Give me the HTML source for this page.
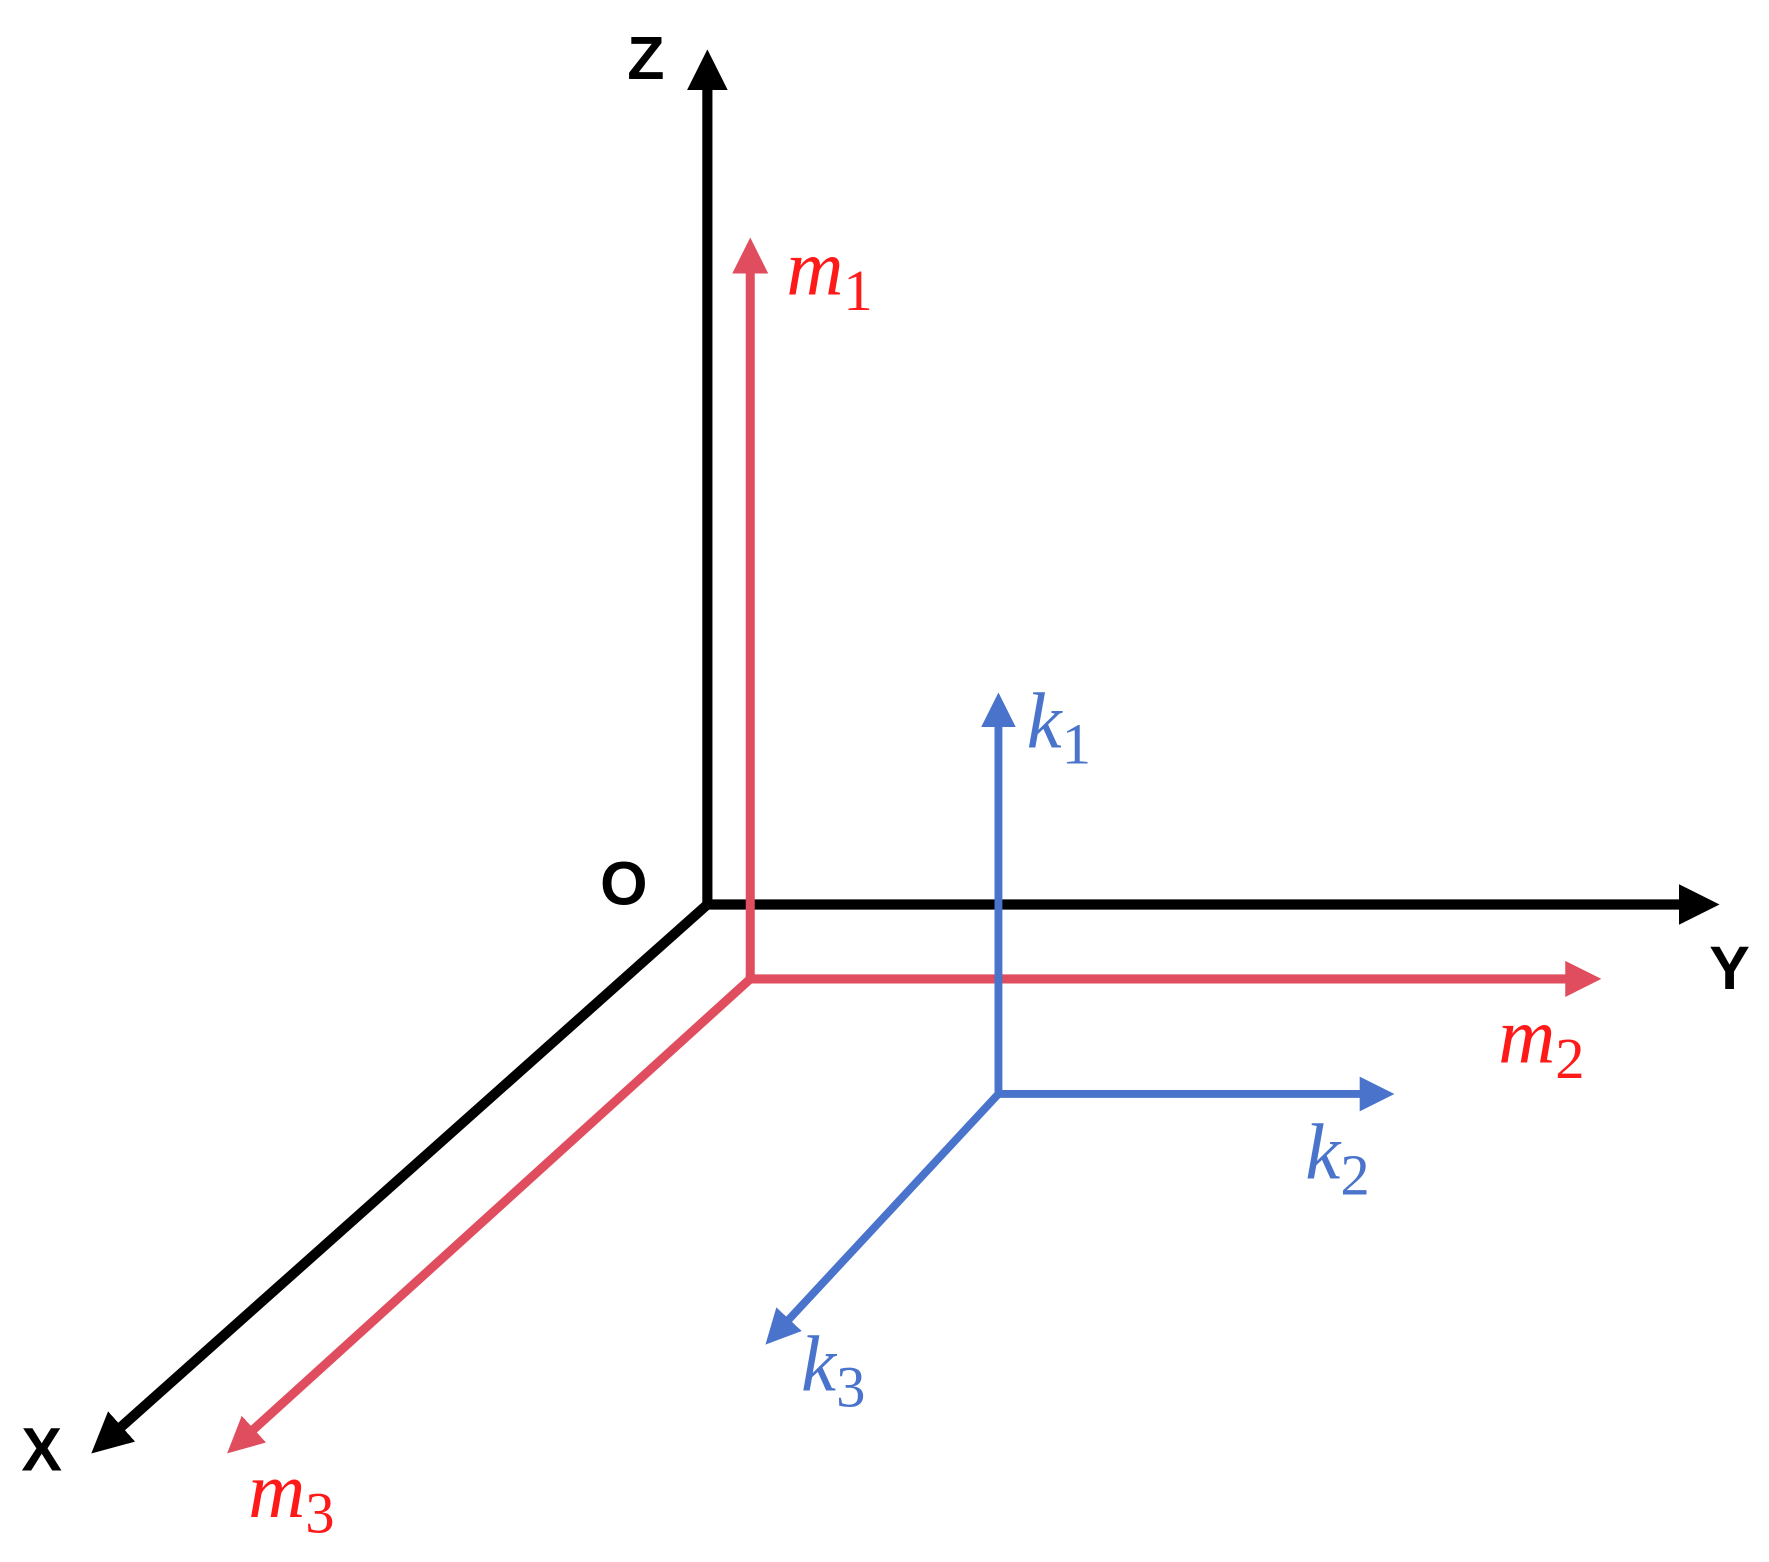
<!DOCTYPE html>
<html><head><style>html,body{margin:0;padding:0;background:#fff;}svg{display:block}</style></head>
<body>
<svg width="1769" height="1562" viewBox="0 0 1568 1385" preserveAspectRatio="none" xmlns="http://www.w3.org/2000/svg">
<defs>
<marker id="ab" markerWidth="4" markerHeight="4" refX="2.2" refY="2" orient="auto" markerUnits="strokeWidth"><path d="M0,0 L4,2 L0,4 Z" fill="#000"/></marker>
<marker id="ar" markerWidth="4" markerHeight="4" refX="2.2" refY="2" orient="auto" markerUnits="strokeWidth"><path d="M0,0 L4,2 L0,4 Z" fill="#e04d5e"/></marker>
<marker id="ak" markerWidth="4.4" markerHeight="4.4" refX="2.4" refY="2.2" orient="auto" markerUnits="strokeWidth"><path d="M0,0 L4.4,2.2 L0,4.4 Z" fill="#4a74cc"/></marker>
</defs>
<g fill="none" stroke-linecap="butt" stroke-linejoin="miter">
<path d="M627,806 L627,60" stroke="#000" stroke-width="9" marker-end="url(#ab)"/>
<path d="M623,802 L1508,802" stroke="#000" stroke-width="9" marker-end="url(#ab)"/>
<path d="M627,802 L93,1278" stroke="#000" stroke-width="9" marker-end="url(#ab)"/>
<path d="M665,871 L665,225" stroke="#e04d5e" stroke-width="8" marker-end="url(#ar)"/>
<path d="M661,868 L1405,868" stroke="#e04d5e" stroke-width="8" marker-end="url(#ar)"/>
<path d="M665,868 L212,1279" stroke="#e04d5e" stroke-width="8" marker-end="url(#ar)"/>
<path d="M885,973 L885,628" stroke="#4a74cc" stroke-width="7" marker-end="url(#ak)"/>
<path d="M882,970 L1222,970" stroke="#4a74cc" stroke-width="7" marker-end="url(#ak)"/>
<path d="M885,970 L688,1182" stroke="#4a74cc" stroke-width="7" marker-end="url(#ak)"/>
</g>
<g font-family="Liberation Sans, sans-serif" font-weight="bold" font-size="54" fill="#000">
<text x="556" y="70">Z</text>
<text x="532" y="802">O</text>
<text x="1515" y="877">Y</text>
<text x="19" y="1304">X</text>
</g>
<g font-family="Liberation Serif, serif" font-style="italic" font-size="70" fill="#ff1a1a">
<text x="697" y="261">m<tspan font-style="normal" font-size="52" dy="14">1</tspan></text>
<text x="1328" y="942">m<tspan font-style="normal" font-size="52" dy="14">2</tspan></text>
<text x="220" y="1345">m<tspan font-style="normal" font-size="52" dy="14">3</tspan></text>
</g>
<g font-family="Liberation Serif, serif" font-style="italic" font-size="70" fill="#4a74cc">
<text x="910" y="663">k<tspan font-style="normal" font-size="52" dy="14">1</tspan></text>
<text x="1157" y="1045">k<tspan font-style="normal" font-size="52" dy="14">2</tspan></text>
<text x="710" y="1233">k<tspan font-style="normal" font-size="52" dy="14">3</tspan></text>
</g>
</svg>
</body></html>
